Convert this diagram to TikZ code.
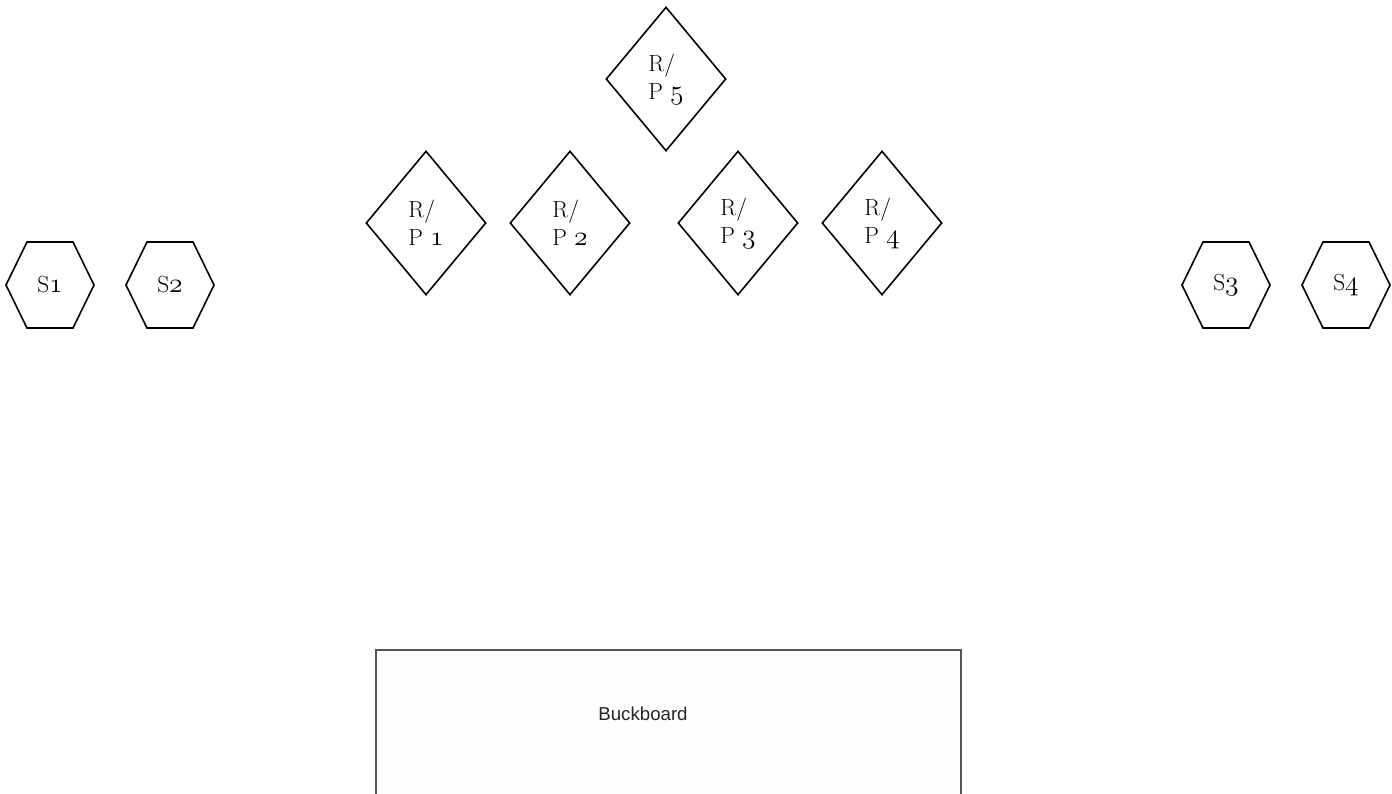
\documentclass[tikz,border=0pt]{standalone}
\usepackage{fontspec}
\usepackage{xcolor}
\usepackage{tikz}
\usetikzlibrary{shapes.geometric,shapes.symbols,positioning}
\newfontfamily\boardfont{Liberation Sans}
\newcommand{\osnum}[1]{{\fontsize{20}{21}\usefont{OML}{cmm}{m}{it}#1}}
\definecolor{boardline}{HTML}{555555}
\definecolor{boardfill}{HTML}{FDFDFD}

\begin{document}
\begin{tikzpicture}[
    x=0.75pt, y=-0.75pt,
    rp/.style={diamond, draw=black, line width=1.2pt, minimum width=90pt, minimum height=108pt, inner sep=0pt, align=left, font=\fontsize{17.5}{21}\selectfont},
    spk/.style={signal, signal to=east and west, signal pointer angle=128, draw=black, line width=1.2pt, minimum width=66pt, minimum height=64.5pt, inner sep=0pt, font=\fontsize{17.5}{21}\selectfont},
    board/.style={rectangle, draw=boardline, fill=boardfill, line width=1.5pt, minimum width=438.75pt, minimum height=150pt, inner sep=0pt},
    boardlabel/.style={font=\boardfont\fontsize{14}{16}\selectfont, text=black!85}
]
    \useasboundingbox (0,0) rectangle (1392,793);
    \clip (0,0) rectangle (1392,793);

    % speakers
    \node[spk] (s1) at (50,285) {S\osnum{1}};
    \node[spk] (s2) at (170,285) {S\osnum{2}};
    \node[spk] (s3) at (1226,285) {S\osnum{3}};
    \node[spk] (s4) at (1346,285) {S\osnum{4}};

    % R/P stations
    \node[rp] (rp1) at (426,223) {R/\\P \osnum{1}};
    \node[rp] (rp2) at (570,223) {R/\\P \osnum{2}};
    \node[rp] (rp3) at (738,223) {R/\\P \osnum{3}};
    \node[rp] (rp4) at (882,223) {R/\\P \osnum{4}};
    \node[rp] (rp5) at (666,79) {R/\\P \osnum{5}};

    % buckboard
    \node[board, anchor=north west] (buckboard) at (375,649) {};
    \node[boardlabel] (buckboardlabel) at (643,714) {Buckboard};
\end{tikzpicture}
\end{document}
